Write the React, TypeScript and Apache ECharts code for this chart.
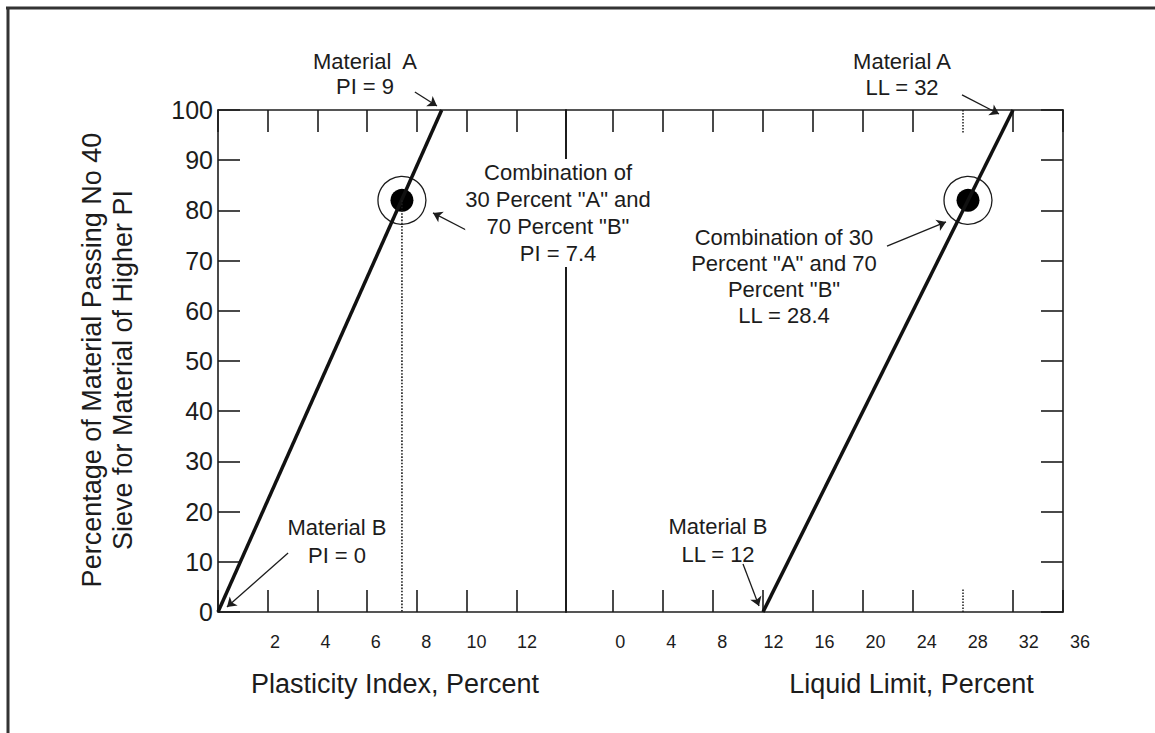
import React, { useEffect, useRef } from "react";
import * as echarts from "echarts";

// ---- data ----
const materialNames = ["Material B", "Material A"];
const passingPercent = [0, 100]; // % passing No 40 sieve of higher-PI material
const plasticityIndex = [0, 9]; // PI of B, A
const liquidLimit = [12, 32]; // LL of B, A
const comboPassing = 82;
const comboPI = 7.4;
const comboLL = 28.4;

// ---- axes ----
const yMin = 0;
const yMax = 100;
const yStep = 10;
const piMin = 0;
const piMax = 14;
const piStep = 2;
const piTickLabels = [2, 4, 6, 8, 10, 12];
const llMin = 0;
const llMax = 36;
const llTicks = [0, 4, 8, 12, 16, 20, 24, 32, 36];
const llDottedTicks = [28];
const llTickLabels = [0, 4, 8, 12, 16, 20, 24, 28, 32, 36];

// annotation arrows (data coords): from -> to
const piArrows = [
  [[7.92, 103.6], [8.81, 100.8]],
  [[10.06, 75.9], [8.65, 79.5]],
  [[2.82, 11.75], [0.36, 1.0]],
];
const llArrows = [
  [[27.92, 103.0], [30.88, 99.2]],
  [[21.92, 72.9], [26.64, 77.7]],
  [[10.4, 9.56], [11.68, 1.2]],
];

const FONT = '"Liberation Sans", Arial, Helvetica, sans-serif';
const INK = "#1c1c1c";

export default function App() {
  const ref = useRef<HTMLDivElement>(null);

  useEffect(() => {
    if (!ref.current) return;
    const chart = echarts.init(ref.current, null, { renderer: "svg" });

    const TOP = 110;
    const H = 502;
    const LEFT = 218;
    const MID = 566;
    const RSTART = 613;
    const RIGHT = 1063;

    const frameLine = { show: true, onZero: false, lineStyle: { color: INK, width: 1.6 } };
    const noLine = { show: false, onZero: false };
    const tickStyle = { color: INK, width: 1.6 };

    const hiddenY = (gridIndex: number) => ({
      type: "value",
      gridIndex,
      min: yMin,
      max: yMax,
      show: false,
      axisLine: noLine,
    });

    const piLine = plasticityIndex.map((v, i) => [v, passingPercent[i]]);
    const llLine = liquidLimit.map((v, i) => [v, passingPercent[i]]);

    const annText = (x: number, y: number, text: string, lh = 27, bg = false, va = "middle") => ({
      type: "text",
      x,
      y,
      z: 100,
      style: {
        text,
        fontFamily: FONT,
        fontSize: 22,
        lineHeight: lh,
        fill: INK,
        align: "center",
        verticalAlign: va,
        backgroundColor: bg ? "#fff" : undefined,
      },
    });

    const option: any = {
      animation: false,
      backgroundColor: "#fff",
      textStyle: { fontFamily: FONT, color: INK },
      grid: [
        { left: LEFT, top: TOP, width: RIGHT - LEFT, height: H },
        { left: LEFT, top: TOP, width: MID - LEFT, height: H },
        { left: RSTART, top: TOP, width: RIGHT - RSTART, height: H },
        { left: 200, top: TOP, width: 390, height: H },
        { left: 600, top: TOP, width: 550, height: H },
        { left: 760, top: TOP, width: 303, height: H },
      ],
      xAxis: [
        // 0,1 frame
        { type: "value", gridIndex: 0, min: 0, max: 1, position: "bottom", axisLine: frameLine, axisTick: { show: false }, axisLabel: { show: false }, splitLine: { show: false } },
        { type: "value", gridIndex: 0, min: 0, max: 1, position: "top", axisLine: frameLine, axisTick: { show: false }, axisLabel: { show: false }, splitLine: { show: false } },
        // 2,3 PI ticks
        { type: "value", gridIndex: 1, min: piMin, max: piMax, interval: piStep, position: "bottom", axisLine: noLine, axisTick: { show: true, inside: true, length: 22, lineStyle: tickStyle }, axisLabel: { show: false }, splitLine: { show: false } },
        { type: "value", gridIndex: 1, min: piMin, max: piMax, interval: piStep, position: "top", axisLine: noLine, axisTick: { show: true, inside: true, length: 22, lineStyle: tickStyle }, axisLabel: { show: false }, splitLine: { show: false } },
        // 4,5 LL ticks
        { type: "value", gridIndex: 2, min: llMin, max: llMax, position: "bottom", axisLine: noLine, axisTick: { show: true, inside: true, length: 22, lineStyle: tickStyle, customValues: llTicks }, axisLabel: { show: false }, splitLine: { show: false } },
        { type: "value", gridIndex: 2, min: llMin, max: llMax, position: "top", axisLine: noLine, axisTick: { show: true, inside: true, length: 22, lineStyle: tickStyle, customValues: llTicks }, axisLabel: { show: false }, splitLine: { show: false } },
        // 6,7 LL dotted ticks
        { type: "value", gridIndex: 2, min: llMin, max: llMax, position: "bottom", axisLine: noLine, axisTick: { show: true, inside: true, length: 24, lineStyle: { color: INK, width: 1.5, type: "dotted" }, customValues: llDottedTicks }, axisLabel: { show: false }, splitLine: { show: false } },
        { type: "value", gridIndex: 2, min: llMin, max: llMax, position: "top", axisLine: noLine, axisTick: { show: true, inside: true, length: 24, lineStyle: { color: INK, width: 1.5, type: "dotted" }, customValues: llDottedTicks }, axisLabel: { show: false }, splitLine: { show: false } },
        // 8 PI labels + title
        {
          type: "value", gridIndex: 3, min: -0.976, max: 14.5, position: "bottom",
          axisLine: noLine, axisTick: { show: false }, splitLine: { show: false },
          axisLabel: { show: true, customValues: piTickLabels, fontSize: 18, color: INK, margin: 21, fontFamily: FONT },
          name: "Plasticity Index, Percent", nameLocation: "middle", nameGap: 58,
          nameTextStyle: { fontSize: 27, color: INK, fontFamily: FONT },
        },
        // 9 LL labels
        {
          type: "value", gridIndex: 4, min: -1.582, max: 41.49, position: "bottom",
          axisLine: noLine, axisTick: { show: false }, splitLine: { show: false },
          axisLabel: { show: true, customValues: llTickLabels, fontSize: 18, color: INK, margin: 21, fontFamily: FONT },
        },
        // 10 LL title
        {
          type: "value", gridIndex: 5, min: 0, max: 1, position: "bottom",
          axisLine: noLine, axisTick: { show: false }, axisLabel: { show: false }, splitLine: { show: false },
          name: "Liquid Limit, Percent", nameLocation: "middle", nameGap: 58,
          nameTextStyle: { fontSize: 27, color: INK, fontFamily: FONT },
        },
      ],
      yAxis: [
        {
          type: "value", gridIndex: 0, min: yMin, max: yMax, interval: yStep, position: "left",
          axisLine: frameLine,
          axisTick: { show: true, inside: true, length: 22, lineStyle: tickStyle },
          axisLabel: { show: true, fontSize: 25, color: INK, margin: 5, fontFamily: FONT },
          splitLine: { show: false },
        },
        {
          type: "value", gridIndex: 0, min: yMin, max: yMax, interval: yStep, position: "right",
          axisLine: frameLine,
          axisTick: { show: true, inside: true, length: 22, lineStyle: tickStyle },
          axisLabel: { show: false },
          splitLine: { show: false },
        },
        {
          type: "value", gridIndex: 1, min: yMin, max: yMax, position: "right",
          axisLine: { show: true, onZero: false, lineStyle: { color: INK, width: 2 } },
          axisTick: { show: false }, axisLabel: { show: false }, splitLine: { show: false },
        },
        hiddenY(2),
        hiddenY(3),
        hiddenY(4),
        hiddenY(5),
      ],
      series: [
        {
          name: "PI blend line", type: "line", xAxisIndex: 2, yAxisIndex: 2,
          data: piLine, symbol: "none", lineStyle: { color: "#111", width: 3.5 },
        },
        {
          name: "LL blend line", type: "line", xAxisIndex: 4, yAxisIndex: 3,
          data: llLine, symbol: "none", lineStyle: { color: "#111", width: 3.5 },
        },
        {
          name: "PI drop", type: "line", xAxisIndex: 2, yAxisIndex: 2,
          data: [[comboPI, comboPassing], [comboPI, yMin]], symbol: "none",
          lineStyle: { color: INK, width: 1.6, type: "dotted" },
        },
        {
          name: "combo ring", type: "scatter", xAxisIndex: 2, yAxisIndex: 2,
          data: [[comboPI, comboPassing]], symbol: "circle", symbolSize: 48,
          itemStyle: { color: "rgba(0,0,0,0)", borderColor: INK, borderWidth: 1.3, opacity: 1 },
        },
        {
          name: "combo dot", type: "scatter", xAxisIndex: 2, yAxisIndex: 2,
          data: [[comboPI, comboPassing]], symbol: "circle", symbolSize: 23,
          itemStyle: { color: "#000", opacity: 1 },
        },
        {
          name: "combo ring LL", type: "scatter", xAxisIndex: 4, yAxisIndex: 3,
          data: [[comboLL, comboPassing]], symbol: "circle", symbolSize: 48,
          itemStyle: { color: "rgba(0,0,0,0)", borderColor: INK, borderWidth: 1.3, opacity: 1 },
        },
        {
          name: "combo dot LL", type: "scatter", xAxisIndex: 4, yAxisIndex: 3,
          data: [[comboLL, comboPassing]], symbol: "circle", symbolSize: 23,
          itemStyle: { color: "#000", opacity: 1 },
        },
        {
          name: "PI arrows", type: "lines", coordinateSystem: "cartesian2d", xAxisIndex: 2, yAxisIndex: 2,
          clip: false, symbol: ["none", "arrow"], symbolSize: 9,
          lineStyle: { color: INK, width: 1.3, curveness: 0, opacity: 1 },
          data: piArrows.map((c) => ({ coords: c })),
        },
        {
          name: "LL arrows", type: "lines", coordinateSystem: "cartesian2d", xAxisIndex: 4, yAxisIndex: 3,
          clip: false, symbol: ["none", "arrow"], symbolSize: 9,
          lineStyle: { color: INK, width: 1.3, curveness: 0, opacity: 1 },
          data: llArrows.map((c) => ({ coords: c })),
        },
      ],
      graphic: [
        { type: "line", z: 100, shape: { x1: 6, y1: 8, x2: 1155, y2: 8 }, style: { stroke: "#333", lineWidth: 3 } },
        { type: "line", z: 100, shape: { x1: 8, y1: 7, x2: 8, y2: 733 }, style: { stroke: "#333", lineWidth: 3 } },
        {
          type: "text", x: 92, y: 360, rotation: Math.PI / 2, z: 100,
          style: { text: "Percentage of Material Passing No 40", fontFamily: FONT, fontSize: 27, fill: INK, align: "center", verticalAlign: "middle" },
        },
        {
          type: "text", x: 123, y: 370, rotation: Math.PI / 2, z: 100,
          style: { text: "Sieve for Material of Higher PI", fontFamily: FONT, fontSize: 27, fill: INK, align: "center", verticalAlign: "middle" },
        },
        annText(365, 74, `${materialNames[1].replace(" ", "  ")}\nPI = ${plasticityIndex[1]}`, 25),
        annText(558, 159, `Combination of\n30 Percent "A" and\n70 Percent "B"\nPI = ${comboPI}`, 27, true, "top"),
        annText(337, 541, `${materialNames[0]}\nPI = ${plasticityIndex[0]}`, 28),
        annText(902, 74, `${materialNames[1]}\nLL = ${liquidLimit[1]}`, 26),
        annText(784, 276, `Combination of 30\nPercent "A" and 70\nPercent "B"\nLL = ${comboLL}`, 26),
        annText(718, 540, `${materialNames[0]}\nLL = ${liquidLimit[0]}`, 28),
      ],
    };

    chart.setOption(option);
    return () => chart.dispose();
  }, []);

  return (
    <div
      ref={ref}
      style={{ position: "fixed", left: 0, top: 0, width: 1155, height: 733, background: "#fff" }}
    />
  );
}
